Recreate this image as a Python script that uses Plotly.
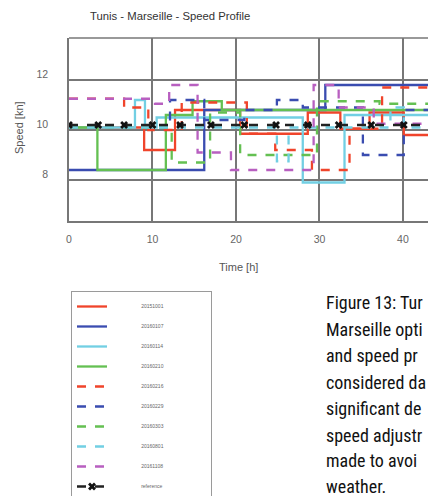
import plotly.graph_objects as go

# ---------------- data ----------------
series_names = ["20151001", "20160107", "20160114", "20160210", "20160216",
                "20160229", "20160303", "20160801", "20161108"]

t_20151001 = [0, 9.0, 12.7, 20.5, 28.6, 32.5, 36.0, 40.1, 44]
s_20151001 = [10.1, 9.2, 10.8, 9.85, 10.7, 10.05, 10.7, 9.8, 9.8]

t_20160107 = [0, 16.2, 30.7, 44]
s_20160107 = [8.4, 10.8, 11.8, 11.8]

t_20160114 = [0, 7.9, 9.1, 10.5, 28.0, 33.0, 44]
s_20160114 = [10.1, 11.2, 10.1, 10.5, 7.9, 10.6, 10.6]

t_20160210 = [0, 3.4, 11.6, 14.8, 18.3, 44]
s_20160210 = [10.1, 8.4, 10.6, 11.15, 10.8, 10.8]

t_20160216 = [0, 6.6, 9.5, 13.5, 21.3, 24.7, 29.1, 33.6, 37.5, 44]
s_20160216 = [11.25, 10.9, 10.0, 11.1, 9.85, 9.2, 8.4, 10.05, 11.7, 11.7]

t_20160229 = [0, 12.1, 16.2, 21.0, 24.9, 28.0, 35.2, 40.1, 44]
s_20160229 = [10.1, 11.2, 10.4, 10.8, 11.2, 10.9, 9.0, 10.8, 10.8]

t_20160303 = [0, 12.3, 16.9, 20.5, 29.7, 37.2, 44]
s_20160303 = [10.1, 8.7, 10.7, 9.0, 11.15, 11.05, 11.05]

t_20160801 = [0, 24.9, 26.3, 38.5, 40.1, 44]
s_20160801 = [10.1, 8.75, 10.1, 10.9, 10.1, 10.1]

t_20161108 = [0, 10.3, 12.0, 15.4, 19.4, 29.3, 32.3, 36.5, 44]
s_20161108 = [11.25, 11.05, 11.8, 9.1, 8.4, 11.8, 10.9, 10.25, 10.25]

t_reference = [0, 3.5, 6.6, 10.0, 13.3, 17.0, 21.0, 24.8, 28.6, 32.3, 36.2, 40.1, 44.0]
s_reference = [10.2] * len(t_reference)

x_ticks = [0, 10, 20, 30, 40]
y_ticks = [8, 10, 12]

colors = ["#f0442b", "#3a4cb0", "#72cfe3", "#64c052",
          "#f0442b", "#3a4cb0", "#64c052", "#72cfe3", "#b85fc0"]
dashes = ["solid", "solid", "solid", "solid", "dash", "dash", "dash", "dash", "dash"]

# caption text as visible in the (cropped) reference
caption_lines = ["Figure 13: Tur", "Marseille opti", "and speed pr",
                 "considered da", "significant de", "speed adjustr",
                 "made to avoi", "weather."]

# ---------------- figure ----------------
data_t = [t_20151001, t_20160107, t_20160114, t_20160210, t_20160216,
          t_20160229, t_20160303, t_20160801, t_20161108]
data_s = [s_20151001, s_20160107, s_20160114, s_20160210, s_20160216,
          s_20160229, s_20160303, s_20160801, s_20161108]

W, H = 428, 496
L, T, B = 69, 38, 275
PW = W - L
PH = H - T - B

NB = "\u00a0"


def legend_label(name):
    return NB * 21 + name + NB * 30


fig = go.Figure()
for name, tt, ss, c, d in zip(series_names, data_t, data_s, colors, dashes):
    fig.add_trace(go.Scatter(x=tt, y=ss, mode="lines", name=legend_label(name),
                             line=dict(color=c, width=2.3, dash=d, shape="hv"),
                             legendgroup=name))

fig.add_trace(go.Scatter(x=t_reference, y=s_reference, mode="lines+markers",
                         name=legend_label("reference"), legendgroup="reference",
                         line=dict(color="#222222", width=2.3, dash="dash"),
                         marker=dict(symbol="x", size=7, color="#111111")))

grid = "#777777"
fig.update_layout(
    width=W, height=H,
    margin=dict(l=L, r=0, t=T, b=B, pad=0, autoexpand=False),
    paper_bgcolor="white", plot_bgcolor="white",
    font=dict(family="Liberation Sans, Arial, sans-serif", color="#555555"),
    title=dict(text="Tunis - Marseille - Speed Profile", x=90 / W, xanchor="left",
               y=1 - 16 / H, yanchor="middle",
               font=dict(size=11.3, color="#333333")),
    xaxis=dict(range=[0, 43], tickvals=x_ticks, showgrid=True, gridcolor=grid,
               gridwidth=1.6, zeroline=False, showline=True, linecolor=grid,
               linewidth=1.6, ticks="", ticklabelstandoff=8,
               tickfont=dict(size=10.5, color="#666666")),
    yaxis=dict(range=[10 - (221 - 130) / 25.0, 10 + (130 - 38) / 25.0],
               tickvals=y_ticks, showgrid=True, gridcolor=grid, gridwidth=1.6,
               zeroline=False, showline=True, linecolor=grid, linewidth=1.6,
               ticks="", ticklabelposition="outside", ticklabelstandoff=17,
               ticklabelshift=-6,
               tickfont=dict(size=10.5, color="#666666")),
    showlegend=True,
    legend=dict(x=(71 - L) / PW, y=(221 - 291) / PH, xanchor="left", yanchor="top",
                bordercolor="#9a9a9a", borderwidth=1, bgcolor="white",
                font=dict(size=5, color="#666666"), tracegroupgap=1),
)

# top border of the plot
fig.add_shape(type="line", xref="paper", yref="paper", x0=0, x1=1, y0=1, y1=1,
              line=dict(color=grid, width=1.6))

# axis titles
fig.add_annotation(text="Time [h]", xref="paper", yref="paper",
                   x=(238 - L) / PW, y=(221 - 267) / PH, showarrow=False,
                   xanchor="center", yanchor="middle",
                   font=dict(size=11, color="#555555"))
fig.add_annotation(text="Speed [kn]", xref="paper", yref="paper",
                   x=(19 - L) / PW, y=(221 - 128) / PH, showarrow=False,
                   textangle=-90, xanchor="center", yanchor="middle",
                   font=dict(size=11, color="#555555"))

# caption text on the right
cap_y = [302, 329, 355, 382, 408, 435, 461, 486]
for line, yy in zip(caption_lines, cap_y):
    fig.add_annotation(text=line, xref="paper", yref="paper",
                       x=(324 - L) / PW, y=(221 - yy) / PH, showarrow=False,
                       xanchor="left", yanchor="middle",
                       font=dict(size=18, color="#111111",
                                 family="Liberation Sans Narrow, Roboto Condensed, Roboto, sans-serif"))

fig.write_html("out.html")
